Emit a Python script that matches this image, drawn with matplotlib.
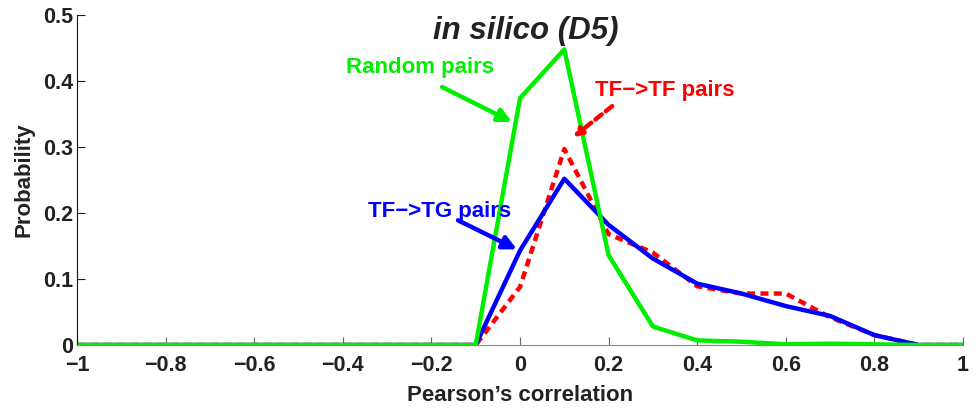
import matplotlib
matplotlib.use("Agg")
import matplotlib.pyplot as plt
import numpy as np

plt.rcParams['font.family'] = ['Liberation Sans', 'DejaVu Sans']

corr = np.round(np.arange(-1, 1.01, 0.1), 1)
random_pairs = [0, 0, 0, 0, 0, 0, 0, 0, 0, 0,
                0.374, 0.448, 0.136, 0.028, 0.007, 0.005, 0.001, 0.002, 0.001, 0, 0]
tf_tg = [0, 0, 0, 0, 0, 0, 0, 0, 0, 0,
         0.143, 0.252, 0.182, 0.131, 0.093, 0.078, 0.059, 0.044, 0.015, 0, 0]
tf_tf = [0, 0, 0, 0, 0, 0, 0, 0, 0, 0,
         0.088, 0.297, 0.168, 0.14, 0.089, 0.078, 0.078, 0.042, 0.015, 0, 0]

fig = plt.figure(figsize=(9.77, 4.08), dpi=100)
ax = fig.add_axes([0.0788, 0.1544, 0.9069, 0.8086])

ax.plot(corr, tf_tf, color='#ff0000', lw=3.2, ls=(0, (1.8, 1.2)))
ax.plot(corr, tf_tg, color='#0000ff', lw=3.2)
ax.plot(corr, random_pairs, color='#00ee00', lw=3.2)

ax.set_xlim(-1, 1)
ax.set_ylim(0, 0.5)
ax.set_xticks(np.round(np.arange(-1, 1.01, 0.2), 1))
ax.set_xticklabels(['\u22121', '\u22120.8', '\u22120.6', '\u22120.4', '\u22120.2',
                    '0', '0.2', '0.4', '0.6', '0.8', '1'])
ax.set_yticks([0, 0.1, 0.2, 0.3, 0.4, 0.5])
ax.set_yticklabels(['0', '0.1', '0.2', '0.3', '0.4', '0.5'])
ax.tick_params(direction='in', length=6, labelsize=15.5, width=0.8, colors='#222222')
ax.tick_params(axis='x', pad=7, color='#666666')
ax.tick_params(axis='y', pad=3)
for lab in ax.get_xticklabels() + ax.get_yticklabels():
    lab.set_fontweight('bold')
ax.spines['top'].set_visible(False)
ax.spines['right'].set_visible(False)
ax.spines['left'].set_color('#111111')
ax.spines['bottom'].set_color('#888888')

ax.set_xlabel("Pearson\u2019s correlation", fontsize=16, fontweight='bold',
              color='#222222', labelpad=7)
ax.set_ylabel("Probability", fontsize=16, fontweight='bold', color='#222222', labelpad=6)

ax.text(0.0135, 0.476, 'in silico (D5)', fontsize=22.5, fontweight='bold', style='italic',
        ha='center', va='center', color='#222222')

ax.text(-0.226, 0.421, 'Random pairs', fontsize=16, fontweight='bold',
        color='#00ee00', ha='center', va='center')
ax.text(0.327, 0.386, 'TF\u2212>TF pairs', fontsize=16, fontweight='bold',
        color='#ff0000', ha='center', va='center')
ax.text(-0.181, 0.203, 'TF\u2212>TG pairs', fontsize=16, fontweight='bold',
        color='#0000ff', ha='center', va='center')

ax.annotate('', xy=(-0.018, 0.338), xytext=(-0.176, 0.391),
            arrowprops=dict(arrowstyle='-|>', color='#00ee00', lw=3.2,
                            mutation_scale=20, shrinkA=0, shrinkB=0))
ax.annotate('', xy=(0.12, 0.315), xytext=(0.208, 0.362),
            arrowprops=dict(arrowstyle='-|>', color='#ff0000', lw=3.2, ls=(0, (1.8, 1.2)),
                            mutation_scale=12, shrinkA=0, shrinkB=0))
ax.annotate('', xy=(-0.007, 0.145), xytext=(-0.14, 0.189),
            arrowprops=dict(arrowstyle='-|>', color='#0000ff', lw=3.2,
                            mutation_scale=20, shrinkA=0, shrinkB=0))

fig.savefig('out.png', dpi=100)
